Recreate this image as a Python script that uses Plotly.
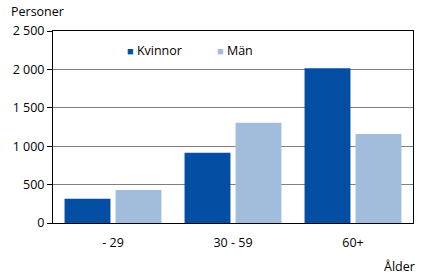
import plotly.graph_objects as go

categories = ["- 29", "30 - 59", "60+"]
kvinnor = [315, 915, 2015]
man = [430, 1305, 1160]
ytickvals = [0, 500, 1000, 1500, 2000, 2500]
yticktext = ["0", "500", "1 000", "1 500", "2 000", "2 500"]

FONT = "Open Sans"
FS = 12.5
C_K = "#034EA2"
C_M = "#A2BDDB"

fig = go.Figure()
fig.add_trace(go.Bar(x=categories, y=kvinnor, name="Kvinnor", marker=dict(color=C_K, line=dict(width=0)), showlegend=False))
fig.add_trace(go.Bar(x=categories, y=man, name="Män", marker=dict(color=C_M, line=dict(width=0)), showlegend=False))

def legend_text(color, label):
    return f"<span style='color:{color};font-size:11px'>■</span> {label}"

fig.update_layout(
    width=423, height=278,
    margin=dict(l=53, r=10, t=31, b=55),
    paper_bgcolor="white", plot_bgcolor="white",
    barmode="group", bargap=0.15, bargroupgap=0.1,
    font=dict(family=FONT, size=FS, color="black"),
    xaxis=dict(showline=True, linecolor="black", linewidth=1, mirror=True,
               ticks="", showgrid=False, tickfont=dict(size=FS), ticklabelstandoff=8),
    yaxis=dict(range=[0, 2500], tickvals=ytickvals, ticktext=yticktext,
               showline=True, linecolor="black", linewidth=1, mirror=True,
               ticks="outside", ticklen=5, tickcolor="black",
               showgrid=True, gridcolor="#808080", gridwidth=1,
               zeroline=False, tickfont=dict(size=FS)),
    annotations=[
        dict(text="Personer", xref="paper", yref="paper", x=-0.122, y=1.099,
             xanchor="left", yanchor="middle", showarrow=False, font=dict(size=FS)),
        dict(text="Ålder", xref="paper", yref="paper", x=1.012, y=-0.228,
             xanchor="right", yanchor="middle", showarrow=False, font=dict(size=FS)),
        dict(text=legend_text(C_K, "Kvinnor"), xref="paper", yref="paper", x=0.2, y=0.901,
             xanchor="left", yanchor="middle", showarrow=False, font=dict(size=FS)),
        dict(text=legend_text(C_M, "Män"), xref="paper", yref="paper", x=0.45, y=0.901,
             xanchor="left", yanchor="middle", showarrow=False, font=dict(size=FS)),
    ],
)

fig.write_html("out.html")
